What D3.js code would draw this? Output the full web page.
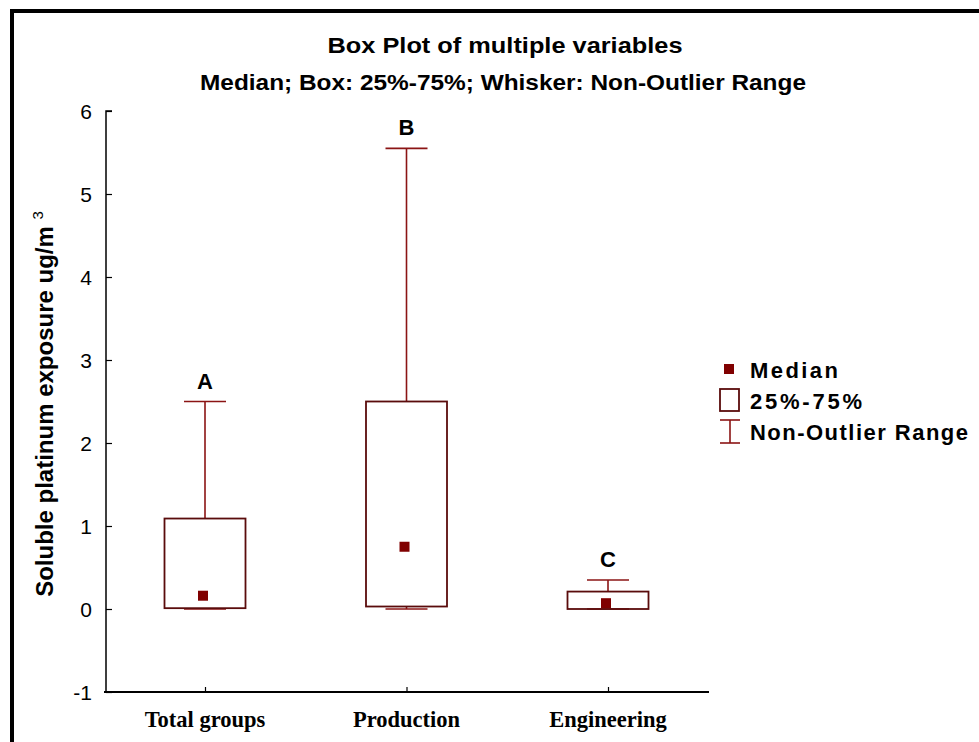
<!DOCTYPE html>
<html>
<head>
<meta charset="utf-8">
<script src="https://cdn.jsdelivr.net/npm/d3@7"></script>
<style>
  html, body { margin: 0; padding: 0; background: #fff; }
  svg { display: block; }
</style>
</head>
<body>
<svg id="chart" width="979" height="742"></svg>
<script>
// Groups and their summary statistics (ug/m3)
const categories = ["Total groups", "Production", "Engineering"];
const groupLetters = ["A", "B", "C"];
const medians = [0.16, 0.75, 0.07];
const q1 = [0.01, 0.03, 0.0];
const q3 = [1.09, 2.50, 0.21];
const whiskerLow = [0.0, 0.0, 0.0];
const whiskerHigh = [2.50, 5.55, 0.35];
const yTicks = [-1, 0, 1, 2, 3, 4, 5, 6];

const boxStroke = "#5a0c0c";
const whiskerColor = "#8b1414";
const medianColor = "#800000";
const sans = "Liberation Sans, Arial, sans-serif";

const svg = d3.select("#chart");

// outer frame
svg.append("rect")
  .attr("x", 12).attr("y", 11)
  .attr("width", 1000).attr("height", 800)
  .attr("fill", "none").attr("stroke", "#000").attr("stroke-width", 4);

const plotLeft = 106, plotRight = 709, plotTop = 111, plotBottom = 692;

const y = d3.scaleLinear().domain([-1, 6]).range([plotBottom, plotTop]);
const x = d3.scalePoint().domain(categories).range([205, 608]);
const boxW = 81, capW = 42, medSize = 10;

// titles (condensed bold)
svg.append("text").attr("x", 505).attr("y", 53)
  .attr("text-anchor", "middle")
  .attr("textLength", 355).attr("lengthAdjust", "spacingAndGlyphs")
  .style("font-family", sans)
  .style("font-weight", "bold").style("font-size", "22px")
  .text("Box Plot of multiple variables");
svg.append("text").attr("x", 503).attr("y", 90)
  .attr("text-anchor", "middle")
  .attr("textLength", 606).attr("lengthAdjust", "spacingAndGlyphs")
  .style("font-family", sans)
  .style("font-weight", "bold").style("font-size", "22px")
  .text("Median; Box: 25%-75%; Whisker: Non-Outlier Range");

// y axis
const yAxis = d3.axisLeft(y).tickValues(yTicks).tickSize(-6).tickPadding(14)
  .tickFormat(d => String(d));
const gy = svg.append("g").attr("transform", `translate(${plotLeft},0)`).call(yAxis);
gy.select(".domain").attr("stroke", "#000").attr("stroke-width", 1.5)
  .attr("d", `M6,${plotTop}H0V${plotBottom}`);
gy.selectAll(".tick line").attr("stroke", "#000").attr("stroke-width", 1.2);
gy.selectAll(".tick text")
  .style("font-family", sans)
  .style("font-size", "21px").attr("fill", "#000").attr("dy", "0.36em");

// x axis
const xAxis = d3.axisBottom(x).tickSize(-5).tickPadding(0).tickFormat("");
const gx = svg.append("g").attr("transform", `translate(0,${plotBottom})`).call(xAxis);
gx.select(".domain").attr("stroke", "#000").attr("stroke-width", 2)
  .attr("d", `M${plotLeft - 2},0H${plotRight}`);
gx.selectAll(".tick line").attr("stroke", "#000").attr("stroke-width", 1.2);

svg.append("g").selectAll("text").data(categories).join("text")
  .attr("x", d => x(d)).attr("y", 727)
  .attr("text-anchor", "middle")
  .style("font-family", "Liberation Serif, Times New Roman, serif")
  .style("font-weight", "bold").style("font-size", "22.5px")
  .text(d => d);

// y axis title
const yt = svg.append("text")
  .attr("transform", `translate(53,${404}) rotate(-90)`)
  .attr("text-anchor", "middle")
  .style("font-family", sans)
  .style("font-weight", "bold").style("font-size", "24px");
yt.append("tspan").text("Soluble platinum exposure ug/m ");
yt.append("tspan").attr("dy", -10).style("font-size", "15px").style("font-weight", "normal").text("3");

// boxes
const groups = svg.append("g").selectAll("g").data(categories).join("g");

groups.append("line")
  .attr("x1", d => x(d)).attr("x2", d => x(d))
  .attr("y1", (d, i) => y(q3[i])).attr("y2", (d, i) => y(whiskerHigh[i]))
  .attr("stroke", whiskerColor).attr("stroke-width", 1.6);
groups.append("line")
  .attr("x1", d => x(d) - capW / 2).attr("x2", d => x(d) + capW / 2)
  .attr("y1", (d, i) => y(whiskerHigh[i])).attr("y2", (d, i) => y(whiskerHigh[i]))
  .attr("stroke", whiskerColor).attr("stroke-width", 1.6);
groups.append("line")
  .attr("x1", d => x(d)).attr("x2", d => x(d))
  .attr("y1", (d, i) => y(q1[i])).attr("y2", (d, i) => y(whiskerLow[i]))
  .attr("stroke", whiskerColor).attr("stroke-width", 1.6);
groups.append("line")
  .attr("x1", d => x(d) - capW / 2).attr("x2", d => x(d) + capW / 2)
  .attr("y1", (d, i) => y(whiskerLow[i])).attr("y2", (d, i) => y(whiskerLow[i]))
  .attr("stroke", whiskerColor).attr("stroke-width", 1.6);

groups.append("rect")
  .attr("x", d => x(d) - boxW / 2).attr("width", boxW)
  .attr("y", (d, i) => y(q3[i]))
  .attr("height", (d, i) => y(q1[i]) - y(q3[i]))
  .attr("fill", "none").attr("stroke", boxStroke).attr("stroke-width", 1.8);

groups.append("rect")
  .attr("x", d => x(d) - 2 - medSize / 2).attr("width", medSize)
  .attr("y", (d, i) => y(medians[i]) - medSize / 2).attr("height", medSize)
  .attr("fill", medianColor);

groups.append("text")
  .attr("x", d => x(d))
  .attr("y", (d, i) => y(whiskerHigh[i]) - 13)
  .attr("text-anchor", "middle")
  .style("font-family", sans)
  .style("font-weight", "bold").style("font-size", "22px")
  .text((d, i) => groupLetters[i]);

// legend
const lg = svg.append("g");
const legendFont = (g, w) => g
  .attr("textLength", w).attr("lengthAdjust", "spacing")
  .style("font-family", sans)
  .style("font-weight", "bold").style("font-size", "22px").attr("fill", "#000");

lg.append("rect").attr("x", 724).attr("y", 364).attr("width", 10).attr("height", 10).attr("fill", medianColor);
lg.append("text").attr("x", 750).attr("y", 378).text("Median").call(legendFont, 88);

lg.append("rect").attr("x", 720).attr("y", 389).attr("width", 19).attr("height", 22)
  .attr("fill", "none").attr("stroke", boxStroke).attr("stroke-width", 1.8);
lg.append("text").attr("x", 750).attr("y", 409).text("25%-75%").call(legendFont, 112);

lg.append("line").attr("x1", 720).attr("x2", 740).attr("y1", 420).attr("y2", 420).attr("stroke", whiskerColor).attr("stroke-width", 1.6);
lg.append("line").attr("x1", 730).attr("x2", 730).attr("y1", 420).attr("y2", 443).attr("stroke", whiskerColor).attr("stroke-width", 1.6);
lg.append("line").attr("x1", 720).attr("x2", 740).attr("y1", 443).attr("y2", 443).attr("stroke", whiskerColor).attr("stroke-width", 1.6);
lg.append("text").attr("x", 750).attr("y", 440).text("Non-Outlier Range").call(legendFont, 218);
</script>
</body>
</html>
